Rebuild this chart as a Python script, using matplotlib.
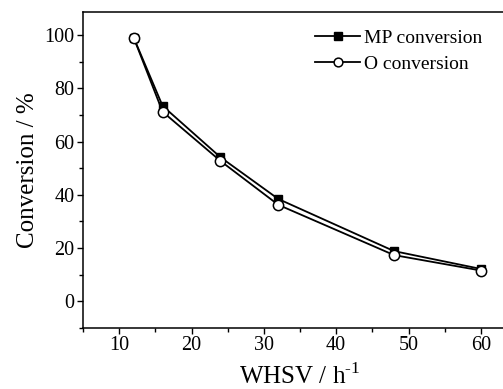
import matplotlib
matplotlib.use("Agg")
import matplotlib.pyplot as plt
from matplotlib.ticker import MultipleLocator

plt.rcParams['font.family'] = ['Liberation Serif', 'DejaVu Serif']
plt.rcParams['mathtext.fontset'] = 'custom'
plt.rcParams['mathtext.rm'] = 'Liberation Serif'

whsv = [12, 16, 24, 32, 48, 60]
mp_conv = [99.1, 73.4, 54.1, 38.4, 18.8, 12.1]
o_conv = [99.1, 71.2, 52.7, 36.2, 17.3, 11.5]

fig = plt.figure(figsize=(5.03, 3.89), dpi=100)
ax = fig.add_axes([83/503, 1 - 327.7/389, 434/503, (327.7 - 12)/389])

ax.plot(whsv, mp_conv, '-s', color='black', lw=1.3, ms=6.2,
        mfc='black', mec='black', label='MP conversion', zorder=3)
ax.plot(whsv, o_conv, '-o', color='black', lw=1.3, ms=7.4,
        mfc='white', mec='black', mew=1.1, label='O conversion', zorder=4)

ax.set_xlim(5, 65)
ax.set_ylim(-10, 108.7)
ax.xaxis.set_minor_locator(MultipleLocator(5))
ax.yaxis.set_minor_locator(MultipleLocator(10))
ax.set_xticks([10, 20, 30, 40, 50, 60])
ax.set_yticks([0, 20, 40, 60, 80, 100])

ax.tick_params(which='major', direction='out', length=4, width=1, labelsize=14.5, pad=2)
ax.tick_params(which='minor', direction='out', length=3, width=1)
ax.spines['right'].set_visible(False)
for s in ['left', 'bottom', 'top']:
    ax.spines[s].set_linewidth(1.1)

ax.set_xlabel('WHSV / h$^{\\text{-1}}$', fontsize=18, labelpad=6)
ax.set_ylabel('Conversion / %', fontsize=18, labelpad=4)

leg = ax.legend(loc='upper left', bbox_to_anchor=(0.535, 0.945), frameon=False,
                fontsize=14, handlelength=2.3, handletextpad=0.2,
                labelspacing=0.42, borderaxespad=0, borderpad=0, markerscale=0.85)

fig.savefig('out.png', dpi=100)
